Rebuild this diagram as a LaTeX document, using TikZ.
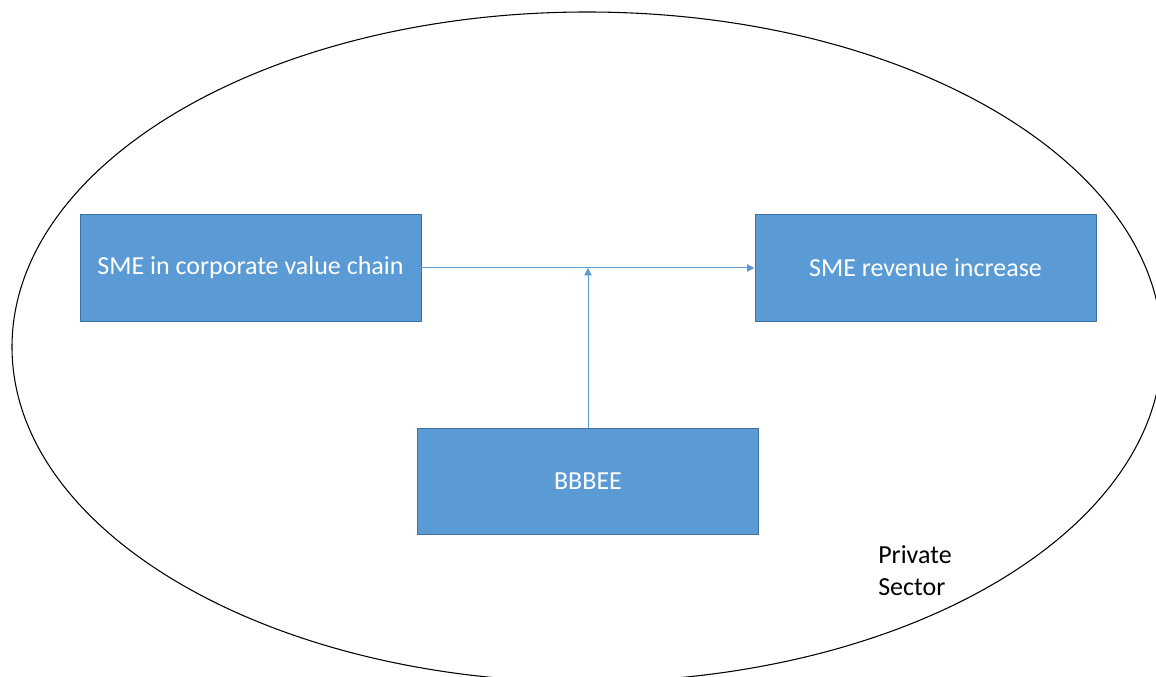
\documentclass[tikz,border=0pt]{standalone}
\usepackage{fontspec}
\setmainfont{Carlito}
\usepackage{xcolor}
\usetikzlibrary{arrows.meta,calc,positioning}
\definecolor{boxblue}{HTML}{5B9BD5}
\definecolor{boxedge}{HTML}{41719C}
\tikzset{
  every picture/.append style={line cap=round,line join=round},
  sme box/.style={draw=boxedge,line width=0.75pt,fill=boxblue,text=white,
    minimum width=255.75pt,minimum height=79.5pt,inner sep=0pt,
    font=\fontsize{19.5}{24}\selectfont},
  sme arrow/.style={draw=boxblue,line width=0.75pt,-{Triangle[length=5.5pt,width=5.5pt]}},
  sme sector/.style={draw=black,line width=0.8pt},
  sme note/.style={font=\fontsize{19.5}{24}\selectfont,align=left,inner sep=0pt}
}

\begin{document}
\begin{tikzpicture}[x=0.75pt,y=-0.75pt]
\useasboundingbox (0,0) rectangle (1156,677);
\draw[sme sector] (587,347) ellipse [x radius=575,y radius=335];
\node[sme box] (chain) at (250.5,268) {SME in corporate value chain};
\node[sme box,right=249.75pt of chain] (revenue) {SME revenue increase};
\coordinate (mid) at ($(chain.south)!0.5!(revenue.south)$);
\node[sme box,below=79.5pt of mid] (bbbee) {BBBEE};
\coordinate (join) at (bbbee.north |- chain.east);
\draw[sme arrow] (chain) -- (revenue);
\draw[sme arrow] (bbbee) -- (join);
\node[sme note,anchor=north west] (sector) at (878,545) {Private\\Sector};
\end{tikzpicture}
\end{document}
